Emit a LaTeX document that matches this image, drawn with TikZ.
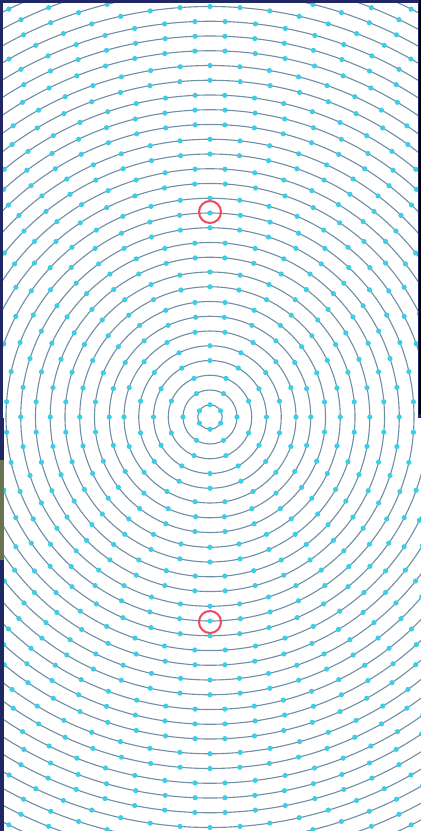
\documentclass[tikz,border=0pt]{standalone}
\usepackage{tikz}
\usepackage{xcolor}
\usetikzlibrary{calc}

\definecolor{ringgray}{RGB}{112,144,166}
\definecolor{dotcyan}{RGB}{60,205,232}
\definecolor{markred}{RGB}{236,74,94}
\definecolor{spacebg}{RGB}{32,40,100}
\definecolor{landbg}{RGB}{104,116,78}

\tikzset{
  ring/.style={ringgray,line width=0.95pt},
  redring/.style={circle,draw=markred,line width=1.7pt,minimum size=0.66cm,inner sep=0pt}
}

\begin{document}
\begin{tikzpicture}[x=0.03cm,y=-0.03cm]
  \useasboundingbox (0,0) rectangle (421,831);
  % screen behind the two pasted halves
  \fill[spacebg] (0,0) rectangle (421,831);
  \fill[landbg] (0,460) rectangle (4,560);
  \fill[white] (3,3) rectangle (418,418);
  \fill[white] (4,418) rectangle (421,831);
  \fill[black] (419,0) rectangle (421,414);

  \coordinate (ctr) at (210,417);
  \begin{scope}
    \clip (3,3) rectangle (418,418) (4,418) rectangle (421,831);
    % ring number / half step shift of its dots
    \foreach \k/\f in {1/0,2/1,3/1,4/0,5/0,6/1,7/1,8/1,9/0,10/0,11/1,12/1,13/0,14/0,15/0,16/1,
                       17/1,18/0,19/0,20/1,21/1,22/1,23/0,24/0,25/1,26/1,27/1,28/0,29/1,30/1,31/0,32/0} {
      \pgfmathsetmacro{\r}{14.75*\k-2.5}
      \pgfmathtruncatemacro{\n}{max(6,2*round(pi*\r/30))}
      \pgfmathsetmacro{\st}{360/\n}
      \pgfmathsetmacro{\ph}{90+\f*\st/2}
      \draw[ring] (ctr) circle[radius=\r];
      \foreach \i in {1,...,\n}
        \fill[dotcyan] ($(ctr)+({\ph+\st*\i}:\r)$) circle[radius=2.6];
    }
  \end{scope}

  \node[redring] (markTop) at (210,212) {};
  \node[redring] (markBot) at (210,622) {};
\end{tikzpicture}
\end{document}
